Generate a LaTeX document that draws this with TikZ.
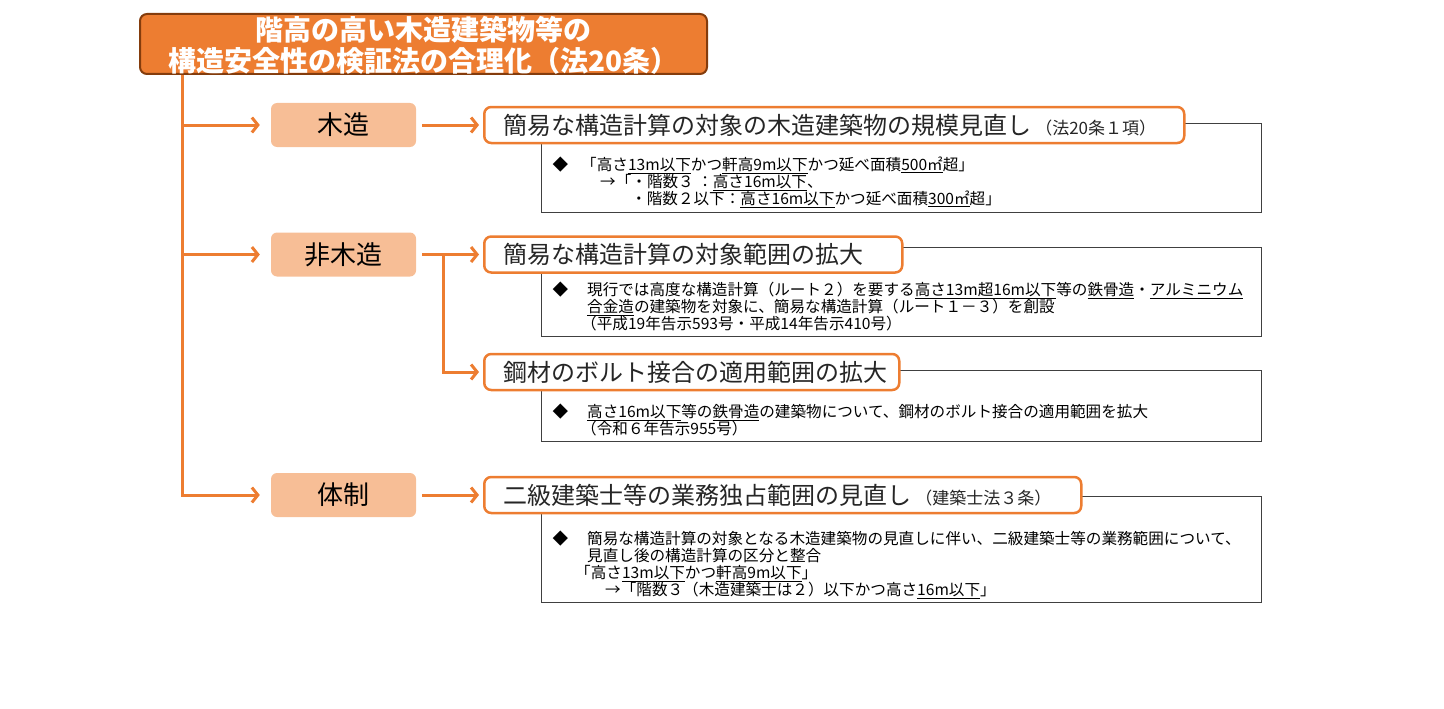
\documentclass[tikz,border=0pt]{standalone}
\usepackage{fontspec}
\setmainfont{Noto Sans CJK JP}
\usetikzlibrary{arrows.meta,positioning}
\definecolor{ora}{HTML}{ED7D31}
\definecolor{orb}{HTML}{843C0C}
\definecolor{sal}{HTML}{F7BE96}
\definecolor{ink}{HTML}{262626}
\newcommand\udl[1]{\underline{#1}}
\newcommand\dmd{\llap{◆\hspace{19pt}}}
\newcommand\lbox[2]{\makebox[#1][l]{#2}}
\newcommand\smalltag[1]{\hspace{4pt}{\fontsize{17}{19}\selectfont #1}}

\begin{document}
\begin{tikzpicture}[x=1pt,y=-1pt,>={Straight Barb[length=6pt,width=15pt]},
titlebox/.style={draw=orb,line width=2pt,fill=ora,rounded corners=7pt,text=white,
  font=\bfseries\fontsize{28}{30.5}\selectfont,align=center,text depth=0pt,
  minimum width=567pt,minimum height=60pt,inner sep=0pt},
catbox/.style={fill=sal,rounded corners=6pt,minimum width=145pt,minimum height=44pt,
  inner sep=0pt,font=\fontsize{26}{28}\selectfont},
topicbox/.style={draw=ora,line width=2.5pt,fill=white,rounded corners=7pt,anchor=west,
  minimum height=36pt,inner xsep=19pt,inner ysep=0pt,text=ink,font=\fontsize{24}{26}\selectfont},
detailbox/.style={draw=black!75,line width=1pt,minimum width=720pt,anchor=north west,inner sep=0pt},
detailtext/.style={font=\fontsize{15.6}{17}\selectfont,align=left,inner sep=0pt},
flow/.style={draw=ora,line width=3pt},
flowarrow/.style={flow,->}]
\useasboundingbox (0,0) rectangle (1444,709);

\node[titlebox] (title) at (423.5,44) {階高の高い木造建築物等の\\構造安全性の検証法の合理化（法20条）};
\node[catbox] (wood) at (343.5,125) {木造};
\node[catbox] (nonwood) at (343.5,254.5) {非木造};
\node[catbox] (system) at (343.5,495) {体制};

\node[detailbox,minimum height=89pt] (d1) at (541,123) {};
\node[detailbox,minimum height=89pt] (d2) at (541,247) {};
\node[detailbox,minimum height=71pt] (d3) at (541,370) {};
\node[detailbox,minimum height=106pt] (d4) at (541,496) {};

\node[topicbox] (t1) at (483,125) {\lbox{662pt}{簡易な構造計算の対象の木造建築物の規模見直し\smalltag{（法20条１項）}}};
\node[topicbox] (t2) at (483,254.5) {\lbox{380pt}{簡易な構造計算の対象範囲の拡大}};
\node[topicbox] (t3) at (483,372) {\lbox{377pt}{鋼材のボルト接合の適用範囲の拡大}};
\node[topicbox] (t4) at (483,495) {\lbox{559pt}{二級建築士等の業務独占範囲の見直し\smalltag{（建築士法３条）}}};

\node[detailtext,below right=34pt and 40pt of d1.north west] (n1) {%
\llap{◆\hspace{13pt}}「高さ\udl{13m以下}かつ\udl{軒高9m以下}かつ延べ面積\udl{500㎡}超」\\
\hspace*{19pt}→「・階数３ ：\udl{高さ16m以下}、\\
\hspace*{50pt}・階数２以下：\udl{高さ16m以下}かつ延べ面積\udl{300㎡}超」};
\node[detailtext,below right=35pt and 46pt of d2.north west] (n2) {%
\dmd 現行では高度な構造計算（ルート２）を要する\udl{高さ13m超16m以下}等の\udl{鉄骨造}・\udl{アルミニウム}\\
\udl{合金造}の建築物を対象に、簡易な構造計算（ルート１－３）を創設\\
\hspace*{-6pt}（平成19年告示593号・平成14年告示410号）};
\node[detailtext,below right=34pt and 46pt of d3.north west] (n3) {%
\dmd\udl{高さ16m以下}等の\udl{鉄骨造}の建築物について、鋼材のボルト接合の適用範囲を拡大\\
\hspace*{-6pt}（令和６年告示955号）};
\node[detailtext,below right=35pt and 46pt of d4.north west] (n4) {%
\dmd 簡易な構造計算の対象となる木造建築物の見直しに伴い、二級建築士等の業務範囲について、\\
見直し後の構造計算の区分と整合\\
\hspace*{-12pt}「高さ\udl{13m以下}かつ\udl{軒高9m以下}」\\
\hspace*{18pt}→「階数３（木造建築士は２）以下かつ高さ\udl{16m以下}」};

\coordinate (trunk) at ([xshift=43pt]title.south west);
\coordinate (split) at ([xshift=27pt]nonwood.east);
\draw[flowarrow,shorten >=11pt] (trunk) |- (system.west);
\draw[flowarrow,shorten >=11pt] (trunk |- wood.west) -- (wood.west);
\draw[flowarrow,shorten >=11pt] (trunk |- nonwood.west) -- (nonwood.west);
\draw[flowarrow,shorten <=6pt,shorten >=4pt] (wood.east) -- (t1.west);
\draw[flow,shorten <=6pt] (nonwood.east) -- (split);
\draw[flowarrow,shorten >=4pt] (split) -- (t2.west);
\draw[flowarrow,shorten >=4pt] (split) |- (t3.west);
\draw[flowarrow,shorten <=6pt,shorten >=4pt] (system.east) -- (t4.west);
\end{tikzpicture}
\end{document}
